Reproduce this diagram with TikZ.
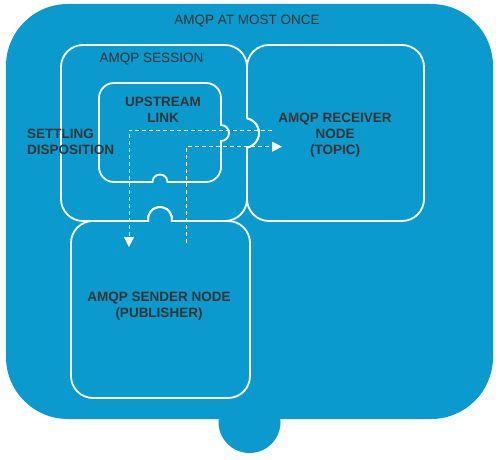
\documentclass[tikz,border=0pt]{standalone}
\usepackage{fontspec}
\setmainfont{Liberation Sans}
\usetikzlibrary{arrows.meta}
\definecolor{amqpblue}{HTML}{0A9ACD}
\definecolor{amqptext}{HTML}{333333}
\tikzset{
  outline/.style={draw=white, line width=1.8pt},
  flowline/.style={white, line width=1pt, dash pattern=on 4pt off 3pt},
  lbl/.style={text=amqptext, font=\fontsize{13.5}{16}\selectfont, align=center, inner sep=0pt},
  blbl/.style={lbl, font=\fontsize{13.5}{16}\selectfont\bfseries},
}
\begin{document}
\begin{tikzpicture}[x=1pt, y=1pt, >={Triangle[width=10pt,length=10pt]}]
\useasboundingbox (0,0) rectangle (500,459);
% background with the tab below
\fill[amqpblue, rounded corners=62pt] (6,40) rectangle (493,455);
\fill[amqpblue] (249.5,37) circle (31);

% session
\draw[outline] (61,260) -- (61,392) arc[start angle=180, end angle=90, radius=22] -- (225,414) arc[start angle=90, end angle=0, radius=22] -- (247,340.7) arc[start angle=78.5, end angle=-78.5, radius=15] -- (247,260) arc[start angle=0, end angle=-90, radius=22] -- (171.8,238) arc[start angle=-9.6, end angle=189.6, radius=12] -- (83,238) arc[start angle=270, end angle=180, radius=22] -- cycle;
% receiver
\draw[outline] (247,260) -- (247,311.3) arc[start angle=-78.5, end angle=78.5, radius=15] -- (247,392) arc[start angle=180, end angle=90, radius=22] -- (402,414) arc[start angle=90, end angle=0, radius=22] -- (424,260) arc[start angle=0, end angle=-90, radius=22] -- (269,238) arc[start angle=270, end angle=180, radius=22] -- cycle;
% sender
\draw[outline] (71,83) -- (71,216) arc[start angle=180, end angle=90, radius=22] -- (148.17,238) arc[start angle=189.6, end angle=-9.6, radius=12] -- (228,238) arc[start angle=90, end angle=0, radius=22] -- (250,83) arc[start angle=0, end angle=-90, radius=22] -- (93,61) arc[start angle=270, end angle=180, radius=22] -- cycle;
% link
\draw[outline] (99,292) -- (99,361) arc[start angle=180, end angle=90, radius=15] -- (206,376) arc[start angle=90, end angle=0, radius=15] -- (221,334) arc[start angle=90, end angle=-90, radius=8] -- (221,292) arc[start angle=0, end angle=-90, radius=15] -- (167.5,277) arc[start angle=0, end angle=180, radius=7.5] -- (114,277) arc[start angle=270, end angle=180, radius=15] -- cycle;

\coordinate (recvtap) at (272,329);
\coordinate (sendturn) at (129,329);
\coordinate (sendin) at (129,212);
\coordinate (pubtap) at (186.7,216);
\coordinate (recvturn) at (186.7,312.3);
\coordinate (recvin) at (282,312.3);
\draw[flowline,->] (recvtap) -- (sendturn) -- (sendin);
\draw[flowline,->] (pubtap) -- (recvturn) -- (recvin);

\node[lbl] (title) at (247,438) {AMQP AT MOST ONCE};
\node[lbl] (session) at (151.5,400) {AMQP SESSION};
\node[blbl] (link) at (163,349) {UPSTREAM\\LINK};
\node[blbl, anchor=west, align=left] (disposition) at (27,317) {SETTLING\\DISPOSITION};
\node[blbl] (receiver) at (335,323.5) {AMQP RECEIVER\\NODE\\(TOPIC)};
\node[blbl] (sender) at (159,153) {AMQP SENDER NODE\\(PUBLISHER)};
\end{tikzpicture}
\end{document}
